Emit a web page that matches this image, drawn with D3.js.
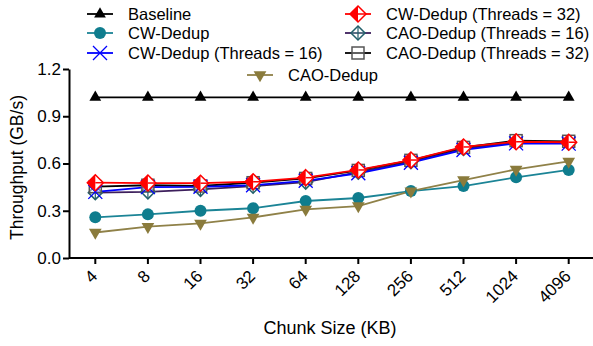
<!DOCTYPE html>
<html>
<head>
<meta charset="utf-8">
<script src="https://cdn.jsdelivr.net/npm/d3@7"></script>
<style>
  body { margin: 0; background: #fff; }
  svg text { font-family: "Liberation Sans", Arial, sans-serif; fill: #000; }
</style>
</head>
<body>
<svg id="chart" width="593" height="346"></svg>
<script>
// chunk sizes on the x axis
const chunkSizes = ['4', '8', '16', '32', '64', '128', '256', '512', '1024', '4096'];
const yTicks = [0.0, 0.3, 0.6, 0.9, 1.2];

// throughput values (GB/s)
const baseline   = [1.02, 1.02, 1.02, 1.02, 1.02, 1.02, 1.02, 1.02, 1.02, 1.02];
const cwDedup    = [0.258, 0.277, 0.300, 0.316, 0.362, 0.381, 0.425, 0.457, 0.512, 0.559];
const cw16       = [0.420, 0.450, 0.452, 0.462, 0.490, 0.538, 0.605, 0.686, 0.728, 0.726];
const cw32       = [0.478, 0.476, 0.475, 0.484, 0.510, 0.559, 0.622, 0.705, 0.738, 0.735];
const cao16      = [0.415, 0.420, 0.436, 0.456, 0.482, 0.545, 0.612, 0.695, 0.735, 0.730];
const cao32      = [0.453, 0.462, 0.457, 0.478, 0.505, 0.556, 0.620, 0.702, 0.745, 0.741];
const caoDedup   = [0.162, 0.199, 0.220, 0.258, 0.309, 0.330, 0.425, 0.495, 0.563, 0.614];

const svg = d3.select('#chart');

const margin = { left: 69, top: 69, bottom: 258 };

const x = d3.scaleBand()
  .domain(chunkSizes)
  .range([margin.left, margin.left + 52.6 * chunkSizes.length]);

const y = d3.scaleLinear()
  .domain([0, 1.2])
  .range([margin.bottom, margin.top]);

const xc = d => x(d) + x.bandwidth() / 2;

// axes
const xAxis = svg.append('g')
  .attr('transform', `translate(0,${margin.bottom})`)
  .call(d3.axisBottom(x).tickSize(6).tickSizeOuter(0).tickFormat(d => d));
xAxis.select('.domain').attr('stroke-width', 2).attr('d', `M${margin.left},0H593`);
xAxis.selectAll('.tick line').attr('stroke-width', 2);
xAxis.selectAll('.tick text')
  .attr('font-size', 17)
  .attr('text-anchor', 'end')
  .attr('x', 0)
  .attr('y', 0)
  .attr('dy', '0.35em')
  .attr('transform', 'translate(-1,15) rotate(-45)');

const yAxis = svg.append('g')
  .attr('transform', `translate(${margin.left},0)`)
  .call(d3.axisLeft(y).tickValues(yTicks).tickSize(6).tickSizeOuter(0).tickFormat(d3.format('.1f')));
yAxis.select('.domain').attr('stroke-width', 2);
yAxis.selectAll('.tick line').attr('stroke-width', 2);
yAxis.selectAll('.tick text').attr('font-size', 17).attr('x', -8);
svg.selectAll('.tick text').style('fill', '#000');

svg.append('text')
  .attr('transform', `translate(23,${(margin.top + margin.bottom) / 2 + 4}) rotate(-90)`)
  .attr('text-anchor', 'middle')
  .attr('font-size', 17.5)
  .text('Throughput (GB/s)');

svg.append('text')
  .attr('x', 330)
  .attr('y', 334)
  .attr('text-anchor', 'middle')
  .attr('font-size', 18)
  .text('Chunk Size (KB)');

// marker painters
function triUp(g, c) {
  g.append('path').attr('d', d3.symbol(d3.symbolTriangle, 60)()).attr('fill', c);
}
function triDown(g, c) {
  g.append('path').attr('d', d3.symbol(d3.symbolTriangle, 70)()).attr('fill', c)
    .attr('transform', 'rotate(180)');
}
function circle(g, c) {
  g.append('circle').attr('r', 6).attr('fill', c);
}
function cross(g, c) {
  g.append('path').attr('d', 'M-7,-7L7,7M-7,7L7,-7').attr('stroke', c).attr('stroke-width', 1.3).attr('fill', 'none');
}
function halfDiamond(g, c) {
  g.append('path').attr('d', 'M0,-8L8,0L0,8L-8,0Z').attr('fill', '#fff').attr('stroke', c).attr('stroke-width', 1.5);
  g.append('path').attr('d', 'M0,-8L0,8L-8,0Z').attr('fill', c);
  g.append('path').attr('d', 'M0,0H8').attr('stroke', c).attr('stroke-width', 1.5);
}
function plusDiamond(g, c) {
  g.append('path').attr('d', 'M0,-7L7,0L0,7L-7,0Z').attr('fill', '#fff').attr('fill-opacity', 0.4).attr('stroke', c).attr('stroke-width', 1.5);
  g.append('path').attr('d', 'M0,-7V7M-7,0H7').attr('stroke', c).attr('stroke-width', 1.2);
}
function boxLine(g, c) {
  g.append('rect').attr('x', -6).attr('y', -6).attr('width', 12).attr('height', 12)
    .attr('fill', '#fff').attr('fill-opacity', 0.4).attr('stroke', c).attr('stroke-width', 1.5);
  g.append('path').attr('d', 'M-6,0H6').attr('stroke', c).attr('stroke-width', 1.2);
}

const series = [
  { name: 'Baseline', values: baseline, line: '#000', mark: '#000', draw: triUp },
  { name: 'CW-Dedup', values: cwDedup, line: '#1b8496', mark: '#0f7d8e', draw: circle },
  { name: 'CAO-Dedup', values: caoDedup, line: '#8f8148', mark: '#8a7b3c', draw: triDown },
  { name: 'CAO-Dedup (Threads = 16)', values: cao16, line: '#3d1f5c', mark: '#22606b', draw: plusDiamond },
  { name: 'CAO-Dedup (Threads = 32)', values: cao32, line: '#000', mark: '#555', draw: boxLine },
  { name: 'CW-Dedup (Threads = 16)', values: cw16, line: '#0000ff', mark: '#0000ff', draw: cross },
  { name: 'CW-Dedup (Threads = 32)', values: cw32, line: '#ff0000', mark: '#ff0000', draw: halfDiamond }
];

const line = d3.line()
  .x((d, i) => xc(chunkSizes[i]))
  .y(d => y(d));

series.forEach(s => {
  svg.append('path')
    .datum(s.values)
    .attr('d', line)
    .attr('fill', 'none')
    .attr('stroke', s.line)
    .attr('stroke-width', 1.8);
});

series.forEach(s => {
  svg.append('g').selectAll('g')
    .data(s.values)
    .enter().append('g')
    .attr('transform', (d, i) => `translate(${xc(chunkSizes[i])},${y(d)})`)
    .each(function () { s.draw(d3.select(this), s.mark); });
});

// legend
const legendRows = [
  { name: 'Baseline', x: 87, y: 14 },
  { name: 'CW-Dedup', x: 87, y: 33 },
  { name: 'CW-Dedup (Threads = 16)', x: 87, y: 53 },
  { name: 'CW-Dedup (Threads = 32)', x: 345, y: 14 },
  { name: 'CAO-Dedup (Threads = 16)', x: 345, y: 33 },
  { name: 'CAO-Dedup (Threads = 32)', x: 345, y: 53 },
  { name: 'CAO-Dedup', x: 247, y: 75 }
];

legendRows.forEach(r => {
  const s = series.find(d => d.name === r.name);
  const g = svg.append('g').attr('transform', `translate(${r.x},${r.y})`);
  g.append('path').attr('d', 'M0,0H26').attr('stroke', s.line).attr('stroke-width', 1.8);
  const m = g.append('g').attr('transform', 'translate(13,0)');
  s.draw(m, s.mark);
  g.append('text')
    .attr('x', 41)
    .attr('y', 6)
    .attr('font-size', 16.5)
    .text(s.name);
});
</script>
</body>
</html>
